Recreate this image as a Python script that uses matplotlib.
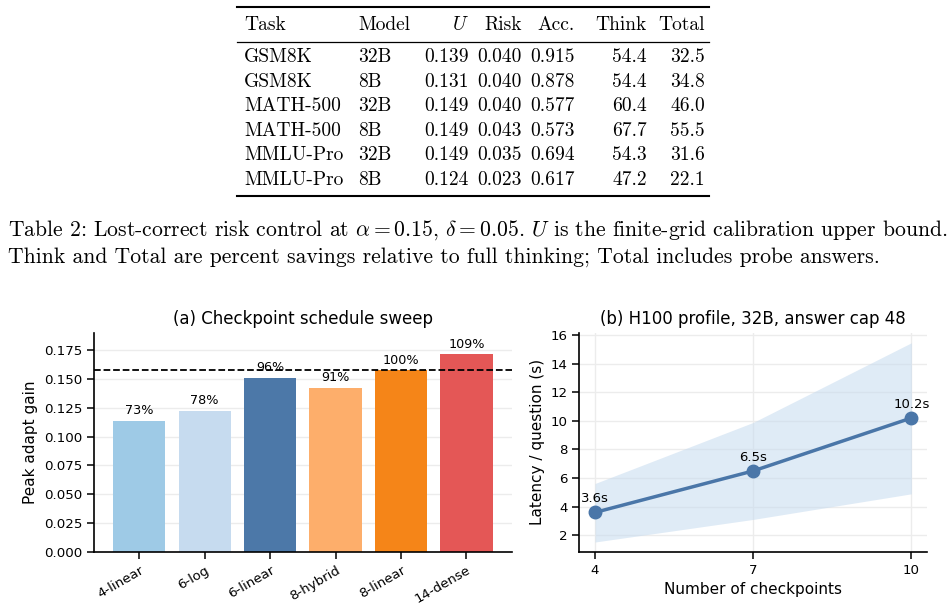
import numpy as np
import matplotlib
matplotlib.use('Agg')
import matplotlib.pyplot as plt

# table 2 values
tasks = ['GSM8K', 'GSM8K', 'MATH-500', 'MATH-500', 'MMLU-Pro', 'MMLU-Pro']
models = ['32B', '8B', '32B', '8B', '32B', '8B']
u_bound = [0.139, 0.131, 0.149, 0.149, 0.149, 0.124]
risk = [0.040, 0.040, 0.040, 0.043, 0.035, 0.023]
acc = [0.915, 0.878, 0.577, 0.573, 0.694, 0.617]
think = [54.4, 54.4, 60.4, 67.7, 54.3, 47.2]
total = [32.5, 34.8, 46.0, 55.5, 31.6, 22.1]
headers = ['Task', 'Model', '$U$', 'Risk', 'Acc.', 'Think', 'Total']

# (a) schedule sweep
schedules = ['4-linear', '6-log', '6-linear', '8-hybrid', '8-linear', '14-dense']
peak_gain = [0.1138, 0.1225, 0.1512, 0.1425, 0.1574, 0.1713]
gain_pct = [73, 78, 96, 91, 100, 109]
reference_gain = 0.1574
bar_colors = ['#9ecae6', '#c6dbef', '#4c78a8', '#fdae6b', '#f58518', '#e45756']

# (b) latency profile
n_checkpoints = [4, 7, 10]
latency = [3.6, 6.5, 10.2]
latency_low = [1.53, 3.11, 4.90]
latency_high = [5.62, 9.89, 15.46]

plt.rcParams['mathtext.fontset'] = 'cm'
plt.rcParams['font.family'] = 'DejaVu Sans'

fig = plt.figure(figsize=(9.51, 6.14), dpi=100)

# ---- table + caption, drawn in pixel coordinates ----
tab = fig.add_axes([0, 0, 1, 1])
tab.set_xlim(0, 951)
tab.set_ylim(614, 0)
tab.axis('off')

serif = dict(family='cmr10', fontsize=14)
rule_x = [237, 709]
tab.plot(rule_x, [7, 7], color='black', lw=1.5)
tab.plot(rule_x, [42, 42], color='black', lw=0.9)
tab.plot(rule_x, [196, 196], color='black', lw=1.5)

col_x = [244, 358, 469, 522, 575, 647, 705]
col_ha = ['left', 'left', 'right', 'right', 'right', 'right', 'right']
for h, cx, ha in zip(headers, col_x, col_ha):
    tab.text(cx, 25, h, ha=ha, va='center', **serif)

row_y = 57
for i in range(len(tasks)):
    cells = [tasks[i], models[i], f'{u_bound[i]:.3f}', f'{risk[i]:.3f}',
             f'{acc[i]:.3f}', f'{think[i]:.1f}', f'{total[i]:.1f}']
    for c, cx, ha in zip(cells, col_x, col_ha):
        tab.text(cx, row_y + 24.6 * i, c, ha=ha, va='center', **serif)

cap = dict(family='cmr10', fontsize=15.6, ha='left', va='center')
tab.text(8, 230, 'Table 2: Lost-correct risk control at $\\alpha = 0.15$, $\\delta = 0.05$. '
         '$U$ is the finite-grid calibration upper bound.', **cap)
tab.text(8, 257, 'Think and Total are percent savings relative to full thinking; '
         'Total includes probe answers.', **cap)

# ---- (a) bars ----
ax1 = fig.add_axes([0.099, 0.101, 0.439, 0.357])
x = np.arange(len(schedules))
ax1.bar(x, peak_gain, width=0.8, color=bar_colors, zorder=2)
ax1.axhline(reference_gain, color='black', ls='--', lw=1.3, zorder=3)
for xi, v, p in zip(x, peak_gain, gain_pct):
    ax1.text(xi, v + 0.003, f'{p}%', ha='center', va='bottom', fontsize=9.2)
ax1.set_xticks(x)
ax1.set_xticklabels(schedules, rotation=30, ha='right', rotation_mode='anchor')
ax1.set_ylim(0, 0.19)
ax1.set_yticks(np.arange(0, 0.176, 0.025))
ax1.set_ylabel('Peak adapt gain', fontsize=11)
ax1.set_title('(a) Checkpoint schedule sweep', fontsize=12)
ax1.grid(axis='y', color='#ececec', lw=1, zorder=0)

# ---- (b) latency ----
ax2 = fig.add_axes([0.609, 0.101, 0.366, 0.357])
ax2.fill_between(n_checkpoints, latency_low, latency_high, color='#c6dbef', alpha=0.55, lw=0, zorder=1)
ax2.plot(n_checkpoints, latency, color='#4a76a8', lw=2.5, marker='o', ms=9, zorder=3)
for n, v in zip(n_checkpoints, latency):
    ax2.annotate(f'{v}s', (n, v), xytext=(0, 5), textcoords='offset points',
                 ha='center', va='bottom', fontsize=9.5)
ax2.set_xticks(n_checkpoints)
ax2.set_yticks(np.arange(2, 17, 2))
ax2.set_xlabel('Number of checkpoints', fontsize=11)
ax2.set_ylabel('Latency / question (s)', fontsize=11)
ax2.set_title('(b) H100 profile, 32B, answer cap 48', fontsize=12)
ax2.grid(color='#ececec', lw=1, zorder=0)

for ax in (ax1, ax2):
    ax.set_axisbelow(True)
    ax.spines['top'].set_visible(False)
    ax.spines['right'].set_visible(False)
    ax.spines['left'].set_linewidth(1.2)
    ax.spines['bottom'].set_linewidth(1.2)
    ax.tick_params(labelsize=9.6, length=5, width=1.1)

fig.savefig('out.png', dpi=100)
